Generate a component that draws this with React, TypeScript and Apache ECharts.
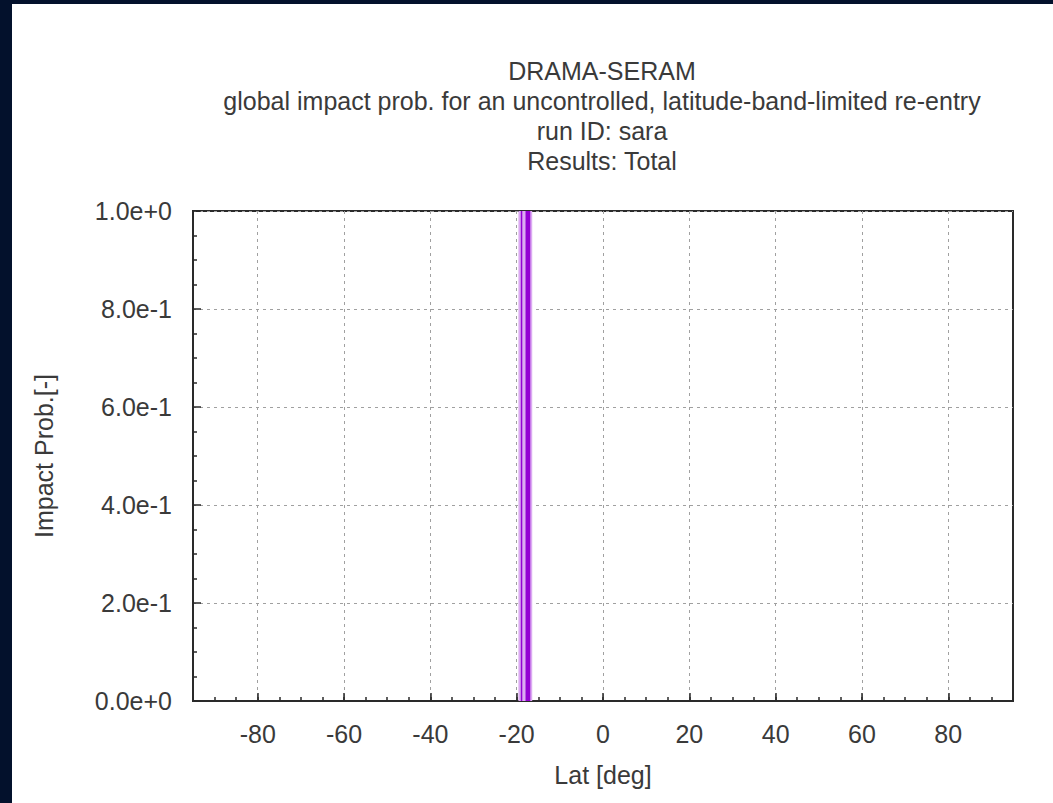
import React, { useEffect, useRef } from "react";
import * as echarts from "echarts";

// ---- data ----
const titleLines = [
  "DRAMA-SERAM",
  "global impact prob. for an uncontrolled, latitude-band-limited re-entry",
  "run ID: sara",
  "Results: Total",
];
const xMin = -95;
const xMax = 95;
const xMajorTicks = [-80, -60, -40, -20, 0, 20, 40, 60, 80];
const yTicks = [0, 0.2, 0.4, 0.6, 0.8, 1.0];
// latitude band (deg) of the re-entry spread and its probability (clipped at 1)
const haloBand = [-19.6, -16.4];
const haloProb = 1.0;
// dense impact latitude bins (deg) with impact probability
const impactBins = [
  [-19.05, -18.7],
  [-17.95, -16.85],
];
const impactProbs = [1.0, 1.0];

const FONT = "'Liberation Sans', Arial, Helvetica, sans-serif";
const TXT = "#3a3a3a";
const FS = 25;

export default function App() {
  const ref = useRef<HTMLDivElement>(null);
  useEffect(() => {
    if (!ref.current) return;
    const chart = echarts.init(ref.current, undefined, { renderer: "svg" });
    const bandSeries = (range: number[], val: number, color: string, name: string) => ({
      type: "line",
      name,
      xAxisIndex: 0,
      yAxisIndex: 0,
      symbol: "none",
      silent: true,
      z: 3,
      lineStyle: { width: 0, color },
      areaStyle: { color, opacity: 1 },
      data: [
        [range[0], 0],
        [range[0], val],
        [range[1], val],
        [range[1], 0],
      ],
    });
    const splitColors = ["rgba(0,0,0,0)", "rgba(0,0,0,0)", "rgba(0,0,0,0)", "#a0a0a0"];
    chart.setOption({
      animation: false,
      backgroundColor: "#ffffff",
      textStyle: { fontFamily: FONT },
      graphic: titleLines.map((t, i) => ({
        type: "text",
        x: 590,
        y: 67 + i * 30,
        style: {
          text: t,
          textAlign: "center",
          textVerticalAlign: "middle",
          font: `${FS}px ${FONT}`,
          fill: TXT,
        },
      })),
      grid: {
        left: 181,
        top: 207,
        right: 40,
        bottom: 102,
        show: true,
        borderColor: "#2a2a2a",
        borderWidth: 2,
        backgroundColor: "transparent",
      },
      xAxis: [
        {
          type: "value",
          min: xMin,
          max: xMax,
          interval: 5,
          name: "Lat [deg]",
          nameLocation: "middle",
          nameGap: 61,
          nameTextStyle: { fontSize: FS, color: TXT, fontFamily: FONT },
          axisLine: { show: true, onZero: false, lineStyle: { color: "#2a2a2a", width: 2 } },
          axisTick: { show: true, inside: true, length: 4, lineStyle: { color: "#2a2a2a", width: 1.5 } },
          axisLabel: { show: false },
          splitLine: {
            show: true,
            showMinLine: true,
            showMaxLine: true,
            lineStyle: { color: splitColors, type: [3, 4], width: 1 },
          },
        },
        {
          type: "value",
          min: xMin,
          max: xMax,
          position: "bottom",
          axisLine: { show: false, onZero: false },
          axisTick: {
            show: true,
            inside: true,
            length: 8,
            customValues: xMajorTicks,
            lineStyle: { color: "#2a2a2a", width: 1.5 },
          },
          axisLabel: {
            show: true,
            customValues: xMajorTicks,
            margin: 20,
            fontSize: FS,
            color: TXT,
            fontFamily: FONT,
          },
          splitLine: { show: false },
        },
      ],
      yAxis: {
        type: "value",
        min: yTicks[0],
        max: yTicks[yTicks.length - 1],
        interval: 0.2,
        name: "Impact Prob.[-]",
        nameLocation: "middle",
        nameGap: 137,
        nameRotate: 90,
        nameTextStyle: { fontSize: FS, color: TXT, fontFamily: FONT },
        axisLine: { show: true, onZero: false, lineStyle: { color: "#2a2a2a", width: 2 } },
        axisTick: { show: true, inside: true, length: 8, lineStyle: { color: "#2a2a2a", width: 1.5 } },
        minorTick: { show: true, splitNumber: 4, length: 4, lineStyle: { color: "#2a2a2a", width: 1.5 } },
        axisLabel: {
          margin: 21,
          fontSize: FS,
          color: TXT,
          fontFamily: FONT,
          formatter: (v: number) => v.toExponential(1),
        },
        splitLine: { show: true, lineStyle: { color: "#a0a0a0", type: [3, 4], width: 1 } },
      },
      series: [
        bandSeries(haloBand, haloProb, "#dcaaf2", "halo"),
        ...impactBins.map((b, i) => bandSeries(b, impactProbs[i], "#9400d3", "impact" + i)),
      ],
    });
    return () => chart.dispose();
  }, []);
  return (
    <div
      style={{
        position: "absolute",
        left: 0,
        top: 0,
        width: 1053,
        height: 803,
        background: "#03112c",
        overflow: "hidden",
      }}
    >
      <div
        ref={ref}
        style={{ position: "absolute", left: 12, top: 4, width: 1041, height: 799, background: "#fff" }}
      />
    </div>
  );
}
